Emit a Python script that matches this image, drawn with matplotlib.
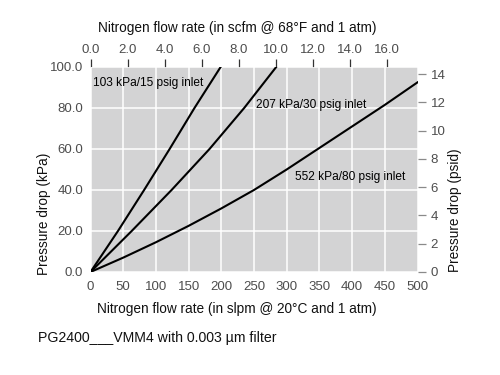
import matplotlib
matplotlib.use("Agg")
import matplotlib.pyplot as plt

plt.rcParams['font.family'] = ['Liberation Sans', 'DejaVu Sans']

# data (slpm vs kPa)
flow_103 = [0, 42, 82, 121, 159, 199]
drop_103 = [0, 20, 40, 60, 80, 100]
flow_207 = [0, 63, 124, 182, 235, 284]
drop_207 = [0, 20, 40, 60, 80, 100]
flow_552 = [0, 50, 100, 150, 200, 250, 300, 350, 400, 450, 500]
drop_552 = [0, 7, 14.5, 22.5, 31, 40, 50, 60.5, 71, 81.5, 92.5]

labels = ["103 kPa/15 psig inlet", "207 kPa/30 psig inlet", "552 kPa/80 psig inlet"]
label_pos = [(3.8, 92.2), (252.6, 81.6), (312.5, 46.5)]

x_ticks = [0, 50, 100, 150, 200, 250, 300, 350, 400, 450, 500]
y_ticks = [0, 20, 40, 60, 80, 100]
scfm_ticks = [0, 2, 4, 6, 8, 10, 12, 14, 16]
psi_ticks = [0, 2, 4, 6, 8, 10, 12, 14]

SLPM_PER_SCFM = 28.317
KPA_PER_PSI = 6.895

tick_col = '#4d4d4d'
text_col = '#111111'

fig = plt.figure(figsize=(5, 3.75), dpi=100)
ax = fig.add_axes([0.181, 0.2747, 0.654, 0.5467])
ax.set_facecolor('#d3d3d4')

for f, d in [(flow_103, drop_103), (flow_207, drop_207), (flow_552, drop_552)]:
    ax.plot(f, d, color='black', lw=1.5, solid_joinstyle='round')

for lab, (lx, ly) in zip(labels, label_pos):
    ax.text(lx, ly, lab, fontsize=8.6, color='black', va='center', ha='left')

ax.set_xlim(0, 500)
ax.set_ylim(0, 100)
ax.set_xticks(x_ticks)
ax.set_yticks(y_ticks)
ax.set_xticklabels([str(v) for v in x_ticks])
ax.set_yticklabels([f"{v:.1f}" for v in y_ticks])
ax.grid(True, color='white', lw=1.1)
ax.set_axisbelow(True)
for s in ax.spines.values():
    s.set_visible(False)
ax.tick_params(axis='y', length=0, labelsize=9.5, labelcolor=tick_col, pad=5.4)
ax.tick_params(axis='x', length=0, labelsize=9.5, labelcolor=tick_col, pad=6.5)

ax.set_xlabel("Nitrogen flow rate (in slpm @ 20°C and 1 atm)", fontsize=9.8,
              color=text_col)
ax.xaxis.set_label_coords(0.448, -0.146)
ax.set_ylabel("Pressure drop (kPa)", fontsize=9.8, color=text_col)
ax.yaxis.set_label_coords(-0.12, 0.285)

top = ax.secondary_xaxis('top', functions=(lambda x: x / SLPM_PER_SCFM,
                                           lambda x: x * SLPM_PER_SCFM))
top.set_xticks(scfm_ticks)
top.set_xticklabels([f"{v:.1f}" for v in scfm_ticks])
top.tick_params(length=6, width=0.9, color='#333333', labelsize=9.5,
                labelcolor=tick_col, pad=2)
top.spines['top'].set_visible(False)

right = ax.secondary_yaxis('right', functions=(lambda y: y / KPA_PER_PSI,
                                               lambda y: y * KPA_PER_PSI))
right.set_yticks(psi_ticks)
right.set_yticklabels([str(v) for v in psi_ticks])
right.tick_params(length=6, width=0.9, color='#8a8a8a', labelsize=9.5,
                  labelcolor=tick_col, pad=3.5)
right.spines['right'].set_visible(False)

fig.text(0.475, 0.925, "Nitrogen flow rate (in scfm @ 68°F and 1 atm)",
         fontsize=9.8, color=text_col, ha='center', va='center')
fig.text(0.91, 0.44, "Pressure drop (psid)", fontsize=9.8, color=text_col,
         rotation=90, ha='center', va='center')

fig.text(0.076, 0.099, "PG2400___VMM4 with 0.003 µm filter", fontsize=10.2,
         color=text_col, va='center', ha='left')

fig.savefig("out.png", dpi=100)
